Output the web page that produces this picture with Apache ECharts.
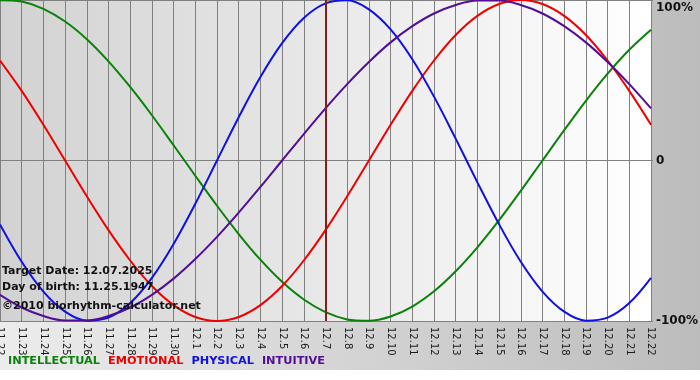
<!DOCTYPE html>
<html><head><meta charset="utf-8">
<script src="https://cdn.jsdelivr.net/npm/echarts@6/dist/echarts.min.js"></script>
<style>html,body{margin:0;padding:0;background:#fff}#c{width:700px;height:380px}</style>
</head><body><div id="c"></div>
<script>
var days = ['11.22','11.23','11.24','11.25','11.26','11.27','11.28','11.29','11.30','12.1','12.2','12.3','12.4','12.5','12.6','12.7','12.8','12.9','12.10','12.11','12.12','12.13','12.14','12.15','12.16','12.17','12.18','12.19','12.20','12.21','12.22'];
var intellectual = [99.9,99.0,94.5,86.6,75.6,61.8,45.8,28.2,9.5,-9.5,-28.2,-45.8,-61.8,-75.6,-86.6,-94.5,-99.0,-99.9,-97.2,-91.0,-81.5,-69.0,-54.1,-37.2,-18.9,0,18.9,37.2,54.1,69.0,81.5];
var emotional = [62.3,43.4,22.3,0,-22.3,-43.4,-62.3,-78.2,-90.1,-97.5,-100,-97.5,-90.1,-78.2,-62.3,-43.4,-22.3,0,22.3,43.4,62.3,78.2,90.1,97.5,100,97.5,90.1,78.2,62.3,43.4,22.3];
var physical = [-39.8,-63.1,-81.7,-94.2,-99.8,-97.9,-88.8,-73.1,-52.0,-27.0,0,27.0,52.0,73.1,88.8,97.9,99.8,94.2,81.7,63.1,39.8,13.6,-13.6,-39.8,-63.1,-81.7,-94.2,-99.8,-97.9,-88.8,-73.1];
var intuitive = [-83.7,-91.6,-96.9,-99.7,-99.7,-96.9,-91.6,-83.7,-73.6,-61.4,-47.6,-32.5,-16.5,0,16.5,32.5,47.6,61.4,73.6,83.7,91.6,96.9,99.7,99.7,96.9,91.6,83.7,73.6,61.4,47.6,32.5];
var targetDay = '12.7';
var yTicks = {'100':'100%','0':'0','-100':'-100%'};
var infoLines = ['Target Date: 12.07.2025','Day of birth: 11.25.1947','\u00a92010 biorhythm-calculator.net'];
var seriesNames = ['INTELLECTUAL','EMOTIONAL','PHYSICAL','INTUITIVE'];
var seriesColors = ['#0a820a','#ee0000','#1010e0','#520e96'];
var seriesData = [intellectual, emotional, physical, intuitive];

var FONT = 'Verdana, "DejaVu Sans", sans-serif';
var chart = echarts.init(document.getElementById('c'), null, {renderer:'canvas'});
var series = seriesNames.map(function(n,i){
  return {name:n, type:'line', data:seriesData[i], smooth:0.35, symbol:'none',
    lineStyle:{color:seriesColors[i], width:2}, itemStyle:{color:seriesColors[i]}, z:3};
});
series[0].markLine = {silent:true, symbol:'none', label:{show:false},
  lineStyle:{color:'#8a1c1c', width:2, type:'solid'}, data:[{xAxis:targetDay}], z:5};
var option = {
  animation:false,
  backgroundColor:'transparent',
  graphic:[
    {type:'rect', shape:{x:0,y:0,width:700,height:370}, z:-10,
      style:{fill:new echarts.graphic.LinearGradient(0,0,1,0,[{offset:0,color:'#ececec'},{offset:1,color:'#bcbcbc'}])}},
    {type:'text', left:2, top:266, z:10, style:{text:infoLines[0], font:'bold 11px '+FONT, fill:'#111'}},
    {type:'text', left:2, top:282, z:10, style:{text:infoLines[1], font:'bold 11px '+FONT, fill:'#111'}},
    {type:'text', left:2, top:301, z:10, style:{text:infoLines[2], font:'bold 11px '+FONT, fill:'#111'}}
  ],
  grid:{left:0, right:49, top:0, bottom:59, show:true, borderWidth:0, outerBoundsMode:'none', containLabel:false,
    backgroundColor:new echarts.graphic.LinearGradient(0,0,1,0,[{offset:0,color:'#d2d2d2'},{offset:1,color:'#ffffff'}])},
  legend:{left:3, top:356, padding:0, itemWidth:0, itemHeight:0, itemGap:3, icon:'rect',
    selectedMode:false,
    data:seriesNames.map(function(n,i){return {name:n, textStyle:{color:seriesColors[i]}};}),
    textStyle:{fontFamily:FONT, fontWeight:'bold', fontSize:11.3}},
  xAxis:{type:'category', data:days, boundaryGap:false,
    axisLine:{lineStyle:{color:'#808080', width:1}},
    axisTick:{show:true, length:5, lineStyle:{color:'#808080'}, interval:0},
    splitLine:{show:true, interval:0, lineStyle:{color:'#808080', width:1}},
    axisLabel:{rotate:-90, interval:0, color:'#1a1a1a', fontFamily:FONT, fontSize:10, margin:6}},
  yAxis:{type:'value', position:'right', min:-100, max:100, interval:100,
    axisLine:{show:false}, axisTick:{show:true, length:2, lineStyle:{color:'#808080'}},
    splitLine:{show:true, lineStyle:{color:'#808080', width:1}},
    axisLabel:{color:'#111', fontFamily:FONT, fontWeight:'bold', fontSize:12, margin:5,
      verticalAlignMaxLabel:'top',
      formatter:function(v){return v === 100 ? '{t|' + yTicks['100'] + '}' : yTicks[String(v)];},
      rich:{t:{padding:[2,0,0,0], fontFamily:FONT, fontWeight:'bold', fontSize:12, color:'#111'}}}},
  series:series
};
chart.setOption(option);
</script></body></html>
